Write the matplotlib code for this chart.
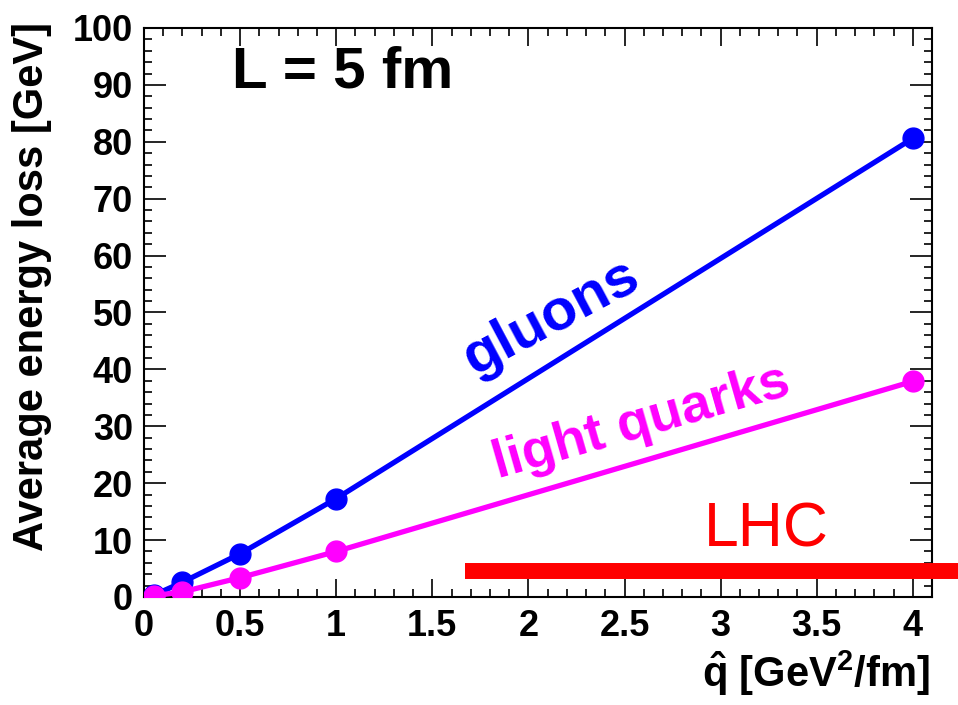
import matplotlib.pyplot as plt
from matplotlib.ticker import MultipleLocator

# datos
qhat = [0.05, 0.2, 0.5, 1.0, 4.0]
gluons = [0.3, 2.6, 7.6, 17.3, 80.6]
light_quarks = [0.2, 0.9, 3.4, 8.0, 37.9]

# banda LHC
lhc_x = [1.67, 4.25]
lhc_y = [4.6, 4.6]

plt.rcParams['font.family'] = ['Liberation Sans', 'DejaVu Sans']
plt.rcParams['mathtext.fontset'] = 'custom'
plt.rcParams['mathtext.rm'] = 'Liberation Sans:bold'
plt.rcParams['mathtext.it'] = 'Liberation Sans:bold'
plt.rcParams['mathtext.bf'] = 'Liberation Sans:bold'

fig = plt.figure(figsize=(9.58, 7.05), dpi=100)
ax = fig.add_axes([0.1503, 0.1532, 0.8226, 0.8071])

ax.plot(qhat, gluons, color='#0000ff', lw=3.8, marker='o', markersize=15, zorder=3)
ax.plot(qhat, light_quarks, color='#ff00ff', lw=3.8, marker='o', markersize=15, zorder=4)
ax.plot(lhc_x, lhc_y, color='#ff0000', lw=11.5, solid_capstyle='butt', clip_on=False, zorder=6)

ax.set_xlim(0, 4.1)
ax.set_ylim(0, 100)
ax.xaxis.set_minor_locator(MultipleLocator(0.1))
ax.yaxis.set_major_locator(MultipleLocator(10))
ax.yaxis.set_minor_locator(MultipleLocator(2))
ax.set_xticks([0, 0.5, 1, 1.5, 2, 2.5, 3, 3.5, 4])
ax.set_xticklabels(['0', '0.5', '1', '1.5', '2', '2.5', '3', '3.5', '4'])

for s in ax.spines.values():
    s.set_linewidth(1.5)
ax.tick_params(which='both', direction='in', top=True, right=True, width=1.2)
ax.tick_params(axis='x', which='major', length=13, pad=9, labelsize=26)
ax.tick_params(axis='y', which='major', length=16, pad=8, labelsize=26)
ax.tick_params(which='minor', length=6)
for lab in ax.get_xticklabels() + ax.get_yticklabels():
    lab.set_fontweight('bold')

# titulos de ejes
ax.set_ylabel('Average energy loss [GeV]', fontsize=30, fontweight='bold', loc='top')
ax.yaxis.set_label_coords(-0.117, 1.011)
ax.set_xlabel(r'$\hat{q}$ [GeV$^{2}$/fm]', fontsize=30, fontweight='bold', loc='right')
ax.xaxis.set_label_coords(0.997, -0.09)

# textos
ax.text(0.46, 89.5, 'L = 5 fm', fontsize=42, fontweight='bold', ha='left', va='baseline')
ax.text(2.12, 49.2, 'gluons', color='#0000ff', fontsize=42, fontweight='bold',
        rotation=28, rotation_mode='anchor', ha='center', va='center')
ax.text(2.59, 30.6, 'light quarks', color='#ff00ff', fontsize=39, fontweight='bold',
        rotation=16, rotation_mode='anchor', ha='center', va='center')
ax.text(3.24, 8.8, 'LHC', color='#ff0000', fontsize=45, ha='center', va='baseline')

fig.savefig('out.png', dpi=100)
